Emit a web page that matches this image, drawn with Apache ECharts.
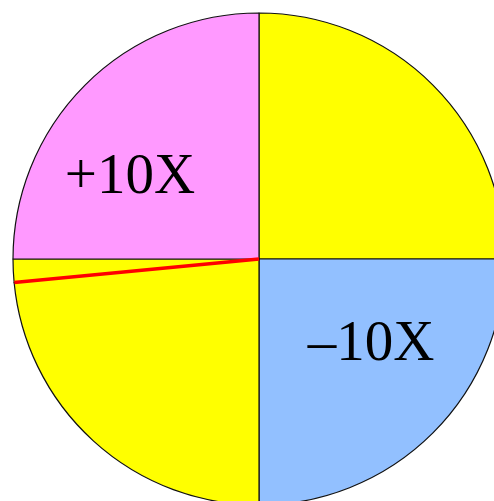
<!DOCTYPE html>
<html>
<head>
<meta charset="utf-8">
<script src="https://cdn.jsdelivr.net/npm/echarts@6/dist/echarts.min.js"></script>
<style>
html, body { margin: 0; padding: 0; background: #fff; }
#main { width: 494px; height: 501px; }
</style>
</head>
<body>
<div id="main"></div>
<script>
// slices, in degrees, clockwise from 12 o'clock
var sliceNames = ['top-right', '-10X', 'bottom-left', 'sliver', '+10X'];
var sliceValues = [90, 90, 84.5, 5.5, 90];
var sliceColors = ['#ffff00', '#92c0ff', '#ffff00', '#ffff00', '#ff99ff'];
var sliceLabels = ['', '\u201310X', '', '', '+10X'];

// the red edge sits where the sliver starts
var redAngle = sliceValues[0] + sliceValues[1] + sliceValues[2];

var myChart = echarts.init(document.getElementById('main'), null, { renderer: 'svg' });

myChart.setOption({
    animation: false,
    polar: {
        center: [259, 259],
        radius: 246
    },
    angleAxis: {
        type: 'value',
        min: 0,
        max: 360,
        startAngle: 90,
        clockwise: true,
        show: false
    },
    radiusAxis: {
        type: 'value',
        min: 0,
        max: 1,
        show: false
    },
    series: [
        {
            type: 'pie',
            center: [259, 259],
            radius: [0, 246],
            startAngle: 90,
            clockwise: true,
            emphasis: { disabled: true },
            itemStyle: {
                borderColor: '#111',
                borderWidth: 1.2
            },
            label: {
                position: 'inside',
                fontFamily: 'Liberation Serif',
                fontSize: 57,
                color: '#000',
                formatter: function (p) { return sliceLabels[p.dataIndex]; }
            },
            labelLine: { show: false },
            labelLayout: function (p) {
                if (p.dataIndex === 4) return { dx: -40, dy: 4 };
                if (p.dataIndex === 1) return { dx: 23, dy: -8 };
                return {};
            },
            data: sliceNames.map(function (n, i) {
                return {
                    name: n,
                    value: sliceValues[i],
                    itemStyle: { color: sliceColors[i] }
                };
            })
        },
        {
            type: 'line',
            coordinateSystem: 'polar',
            showSymbol: false,
            silent: true,
            z: 5,
            lineStyle: { color: '#ff0000', width: 3.5 },
            data: [[0, redAngle], [1, redAngle]]
        }
    ]
});
</script>
</body>
</html>
